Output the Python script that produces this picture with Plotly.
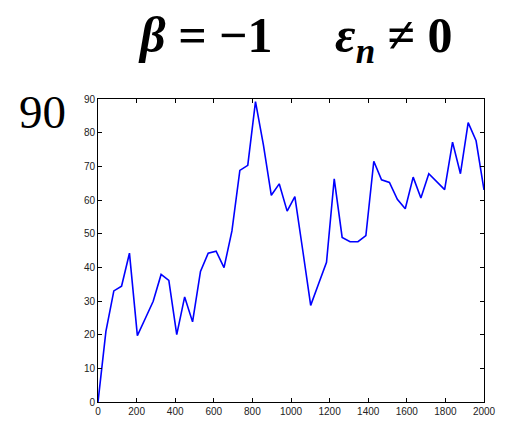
import plotly.graph_objects as go

steps = [0, 41, 82, 122, 163, 204, 245, 286, 327, 367, 408, 449, 490, 531, 571, 612,
         653, 694, 735, 776, 816, 857, 898, 939, 980, 1020, 1061, 1102, 1143, 1184,
         1224, 1265, 1306, 1347, 1388, 1429, 1469, 1510, 1551, 1592, 1633, 1673,
         1714, 1755, 1796, 1837, 1878, 1918, 1959, 2000]
values = [0, 21, 33, 34.4, 44.2, 19.7, 24.8, 29.9, 37.9, 36.1, 20, 31.2, 23.8, 38.8,
          44.2, 44.8, 39.9, 50.8, 68.8, 70.3, 89.2, 76.4, 61.4, 64.8, 56.7, 61.0, 45,
          28.7, 35.1, 41.5, 66.3, 48.9, 47.6, 47.6, 49.4, 71.5, 66.0, 65.2, 60.2, 57.4,
          66.8, 60.6, 67.8, 65.3, 63.1, 77.2, 67.8, 83.0, 77.6, 63.0]
x_ticks = [0, 200, 400, 600, 800, 1000, 1200, 1400, 1600, 1800, 2000]
y_ticks = [0, 10, 20, 30, 40, 50, 60, 70, 80, 90]

fig = go.Figure()
fig.add_trace(go.Scatter(x=steps, y=values, mode="lines",
                         line=dict(color="#0000ff", width=1.6), showlegend=False))

axis_common = dict(showgrid=False, zeroline=False, showline=True, linecolor="black",
                   linewidth=1, mirror="ticks", ticks="inside", ticklen=4,
                   tickcolor="black", tickfont=dict(family="Liberation Sans", size=10,
                                                    color="#222222"))
fig.update_xaxes(range=[0, 2000], tickvals=x_ticks, **axis_common)
fig.update_yaxes(range=[0, 90], tickvals=y_ticks, **axis_common)

serif = "Liberation Serif, Times New Roman, serif"
sp = "&nbsp;"
title = ("<b><i>β</i>" + sp + "=" + sp + "−1" + sp * 5 +
         "<i>ε<sub>n</sub></i>" + sp + "≠" + sp + "0</b>")
fig.add_annotation(text=title, xref="paper", yref="paper", x=0.512, y=1.0, yshift=94,
                   xanchor="center", yanchor="top", showarrow=False,
                   font=dict(family=serif, size=50, color="black"))
fig.add_annotation(text="90", xref="paper", yref="paper", x=0, y=1.0,
                   xshift=-30, yshift=-13, xanchor="right", yanchor="middle",
                   showarrow=False,
                   font=dict(family=serif, size=47, color="black"))

fig.update_layout(width=507, height=421, margin=dict(l=90, r=31, t=91, b=21),
                  paper_bgcolor="white", plot_bgcolor="white")
fig.write_html("out.html")
